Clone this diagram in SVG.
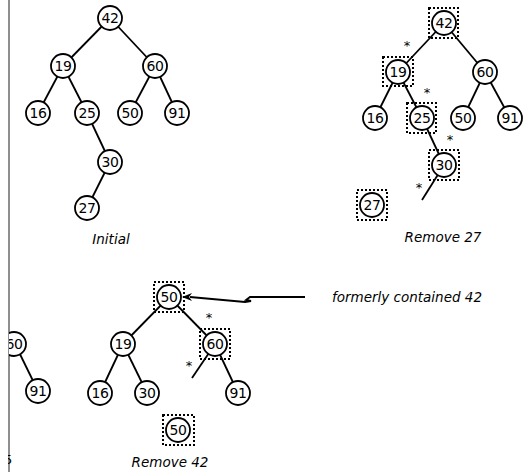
<svg xmlns="http://www.w3.org/2000/svg" width="527" height="472" viewBox="0 0 527 472">
<style>
.n circle{fill:#fff;stroke:#000;stroke-width:1.8}
.n text{font-family:"DejaVu Sans",sans-serif;font-size:14px;text-anchor:middle;dominant-baseline:central;letter-spacing:-0.5px;fill:#000}
.e line{stroke:#000;stroke-width:1.8}
.box{fill:none;stroke:#000;stroke-width:2;stroke-dasharray:2 2}
.lbl{font-family:"DejaVu Sans",sans-serif;font-style:italic;font-size:13.5px;text-anchor:middle;fill:#000}
.star{font-family:"DejaVu Sans",sans-serif;font-size:13px;text-anchor:middle;fill:#000}
</style>
<defs>
<clipPath id="cl"><rect x="9" y="0" width="518" height="472"/></clipPath>
<clipPath id="cl5"><rect x="8" y="440" width="4" height="30"/></clipPath>
</defs>
<rect width="527" height="472" fill="#fff"/>
<line x1="9" y1="0" x2="9" y2="472" stroke="#444" stroke-width="1.2"/>
<g id="connectors">
<g class="e">
<line x1="110" y1="18" x2="63" y2="66"/><line x1="110" y1="18" x2="155" y2="66"/>
<line x1="63" y1="66" x2="38" y2="113"/><line x1="63" y1="66" x2="87" y2="113"/>
<line x1="155" y1="66" x2="130" y2="113"/><line x1="155" y1="66" x2="177" y2="113"/>
<line x1="87" y1="113" x2="110" y2="162"/><line x1="110" y1="162" x2="87" y2="208"/>
<line x1="444" y1="23" x2="398" y2="72"/><line x1="444" y1="23" x2="485" y2="72"/>
<line x1="398" y1="72" x2="375" y2="118"/><line x1="398" y1="72" x2="422" y2="118"/>
<line x1="485" y1="72" x2="463" y2="118"/><line x1="485" y1="72" x2="510" y2="118"/>
<line x1="422" y1="118" x2="444" y2="165"/><line x1="444" y1="165" x2="422" y2="200"/>
<line x1="169" y1="297" x2="123" y2="344"/><line x1="169" y1="297" x2="215" y2="344"/>
<line x1="123" y1="344" x2="100" y2="393"/><line x1="123" y1="344" x2="147" y2="393"/>
<line x1="215" y1="344" x2="238" y2="393"/><line x1="215" y1="344" x2="192" y2="378"/>
<g clip-path="url(#cl)"><line x1="15" y1="344" x2="38" y2="391"/><line x1="15" y1="344" x2="-5" y2="322"/></g>
</g>
<path d="M305 297 L250 297 L246 300 L251 301 L245 302 L190 297" fill="none" stroke="#000" stroke-width="1.8"/>
<path d="M182 297 L192 293 L189 297 L192 301 Z" fill="#000"/>
</g>
<g id="n42a" class="n"><circle cx="110" cy="18" r="12"/><text x="110" y="18">42</text></g>
<g id="n19a" class="n"><circle cx="63" cy="66" r="12"/><text x="63" y="66">19</text></g>
<g id="n60a" class="n"><circle cx="155" cy="66" r="12"/><text x="155" y="66">60</text></g>
<g id="n16a" class="n"><circle cx="38" cy="113" r="12"/><text x="38" y="113">16</text></g>
<g id="n25a" class="n"><circle cx="87" cy="113" r="12"/><text x="87" y="113">25</text></g>
<g id="n50a" class="n"><circle cx="130" cy="113" r="12"/><text x="130" y="113">50</text></g>
<g id="n91a" class="n"><circle cx="177" cy="113" r="12"/><text x="177" y="113">91</text></g>
<g id="n30a" class="n"><circle cx="110" cy="162" r="12"/><text x="110" y="162">30</text></g>
<g id="n27a" class="n"><circle cx="87" cy="208" r="12"/><text x="87" y="208">27</text></g>
<text class="lbl" x="111" y="244">Initial</text>

<g id="n42b" class="n"><circle cx="444" cy="23" r="12"/><text x="444" y="23">42</text><rect class="box" x="429" y="8" width="29" height="30"/></g>
<g id="n19b" class="n"><circle cx="398" cy="72" r="12"/><text x="398" y="72">19</text><rect class="box" x="383" y="57" width="30" height="29"/></g>
<g id="n60b" class="n"><circle cx="485" cy="72" r="12"/><text x="485" y="72">60</text></g>
<g id="n16b" class="n"><circle cx="375" cy="118" r="12"/><text x="375" y="118">16</text></g>
<g id="n25b" class="n"><circle cx="422" cy="118" r="12"/><text x="422" y="118">25</text><rect class="box" x="407" y="103" width="29" height="30"/></g>
<g id="n50b" class="n"><circle cx="463" cy="118" r="12"/><text x="463" y="118">50</text></g>
<g id="n91b" class="n"><circle cx="510" cy="118" r="12"/><text x="510" y="118">91</text></g>
<g id="n30b" class="n"><circle cx="444" cy="165" r="12"/><text x="444" y="165">30</text><rect class="box" x="429" y="150" width="30" height="30"/></g>
<g id="n27b" class="n"><circle cx="372" cy="205" r="12"/><text x="372" y="205">27</text><rect class="box" x="357" y="190" width="30" height="30"/></g>
<text class="star" x="407" y="50">*</text>
<text class="star" x="427" y="97">*</text>
<text class="star" x="450" y="144">*</text>
<text class="star" x="419" y="192">*</text>
<text class="lbl" x="443" y="242">Remove 27</text>

<g id="n50c" class="n"><circle cx="169" cy="297" r="12"/><text x="169" y="297">50</text><rect class="box" x="154" y="282" width="30" height="30"/></g>
<g id="n19c" class="n"><circle cx="123" cy="344" r="12"/><text x="123" y="344">19</text></g>
<g id="n60c" class="n"><circle cx="215" cy="344" r="12"/><text x="215" y="344">60</text><rect class="box" x="200" y="329" width="30" height="30"/></g>
<g id="n16c" class="n"><circle cx="100" cy="393" r="12"/><text x="100" y="393">16</text></g>
<g id="n30c" class="n"><circle cx="147" cy="393" r="12"/><text x="147" y="393">30</text></g>
<g id="n91c" class="n"><circle cx="238" cy="393" r="12"/><text x="238" y="393">91</text></g>
<g id="n50d" class="n"><circle cx="178" cy="430" r="12"/><text x="178" y="430">50</text><rect class="box" x="163" y="415" width="31" height="30"/></g>
<text class="star" x="209" y="322">*</text>
<text class="star" x="189" y="370">*</text>
<text class="lbl" x="170" y="467">Remove 42</text>
<text class="lbl" x="407" y="302">formerly contained 42</text>

<g id="n60e" class="n" clip-path="url(#cl)"><circle cx="14" cy="344" r="12"/><text x="14" y="344">60</text></g>
<g id="n91e" class="n"><circle cx="38" cy="391" r="12"/><text x="38" y="391">91</text></g>
<g clip-path="url(#cl5)"><text x="4" y="464" font-family="DejaVu Sans,sans-serif" font-size="13" fill="#000">5</text></g>
</svg>
